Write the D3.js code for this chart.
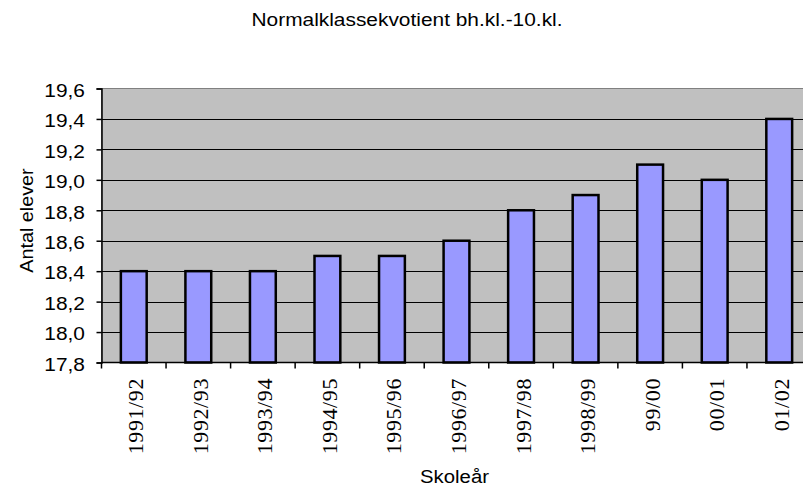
<!DOCTYPE html>
<html><head><meta charset="utf-8">
<script src="https://cdn.jsdelivr.net/npm/d3@7"></script>
<style>body{margin:0;background:#fff}</style>
</head><body>
<svg id="c" width="803" height="488"></svg>
<script>
const categories = ["1991/92","1992/93","1993/94","1994/95","1995/96","1996/97","1997/98","1998/99","99/00","00/01","01/02"];
const values = [18.4,18.4,18.4,18.5,18.5,18.6,18.8,18.9,19.1,19.0,19.4];
const yTicks = [17.8,18.0,18.2,18.4,18.6,18.8,19.0,19.2,19.4,19.6];
const title = "Normalklassekvotient bh.kl.-10.kl.";
const yTitle = "Antal elever";
const xTitle = "Skoleår";

const SANS = "'Liberation Sans', Arial, sans-serif";
const SERIF = "'Liberation Serif', 'Times New Roman', 'DejaVu Serif', serif";
const SX = 1.13;

const svg = d3.select("#c");
const L = 101.5, R = 811.5, T = 88.5, B = 362.5;
const x = d3.scaleBand().domain(categories).range([L, R]).paddingInner(0.6).paddingOuter(0.3);
const step = x.step();
const y = d3.scaleLinear().domain([17.8, 19.6]).range([B, T]);

svg.append("rect").attr("x", L).attr("y", T).attr("width", R - L).attr("height", B - T)
  .attr("fill", "#c0c0c0").attr("stroke", "#808080").attr("stroke-width", 1);

svg.append("g").selectAll("line").data(yTicks.slice(1, -1)).join("line")
  .attr("x1", L).attr("x2", R).attr("y1", d => Math.round(y(d)) + 0.5).attr("y2", d => Math.round(y(d)) + 0.5)
  .attr("stroke", "#000").attr("stroke-width", 1);

svg.append("g").selectAll("rect").data(values).join("rect")
  .attr("x", (d, i) => x(categories[i]))
  .attr("y", d => y(d))
  .attr("width", x.bandwidth())
  .attr("height", d => B - y(d))
  .attr("fill", "#9999ff").attr("stroke", "#000").attr("stroke-width", 2.5);

// y axis
const yAxis = d3.axisLeft(y).tickValues(yTicks).tickSize(5)
  .tickFormat(d => d3.format(".1f")(d).replace(".", ","));
const gy = svg.append("g").attr("transform", `translate(${L},0)`).call(yAxis);
gy.select(".domain").attr("stroke", "#000").attr("stroke-width", 1.5);
gy.selectAll(".tick line").attr("stroke", "#000").attr("stroke-width", 1.5);
gy.selectAll("text").attr("font-family", SANS).attr("font-size", 18.5).attr("fill", "#000")
  .attr("x", -16.5 / SX).attr("dy", "0.42em").attr("transform", `scale(${SX},1)`);

// x axis
svg.append("line").attr("x1", L).attr("x2", R).attr("y1", B).attr("y2", B).attr("stroke", "#000").attr("stroke-width", 1.5);
const bounds = d3.range(categories.length + 1).map(i => L + i * step);
svg.append("g").selectAll("line").data(bounds).join("line")
  .attr("x1", d => d).attr("x2", d => d).attr("y1", B).attr("y2", B + 6)
  .attr("stroke", "#000").attr("stroke-width", 1.5);
svg.append("g").selectAll("text").data(categories).join("text")
  .attr("transform", d => `translate(${x(d) + x.bandwidth() / 2 + 9.5},378) rotate(-90)`)
  .attr("text-anchor", "end")
  .attr("font-family", SERIF).attr("font-size", 22).attr("letter-spacing", 0.6).attr("fill", "#000")
  .text(d => d);

svg.append("text").attr("transform", `translate(407,26) scale(${SX},1)`).attr("text-anchor", "middle")
  .attr("font-family", SANS).attr("font-size", 18.5).text(title);
svg.append("text").attr("transform", `translate(454.5,483) scale(${SX},1)`).attr("text-anchor", "middle")
  .attr("font-family", SANS).attr("font-size", 18).text(xTitle);
svg.append("text").attr("transform", `translate(33,220.5) rotate(-90) scale(${SX},1)`).attr("text-anchor", "middle")
  .attr("font-family", SANS).attr("font-size", 17.5).text(yTitle);
</script>
</body></html>
